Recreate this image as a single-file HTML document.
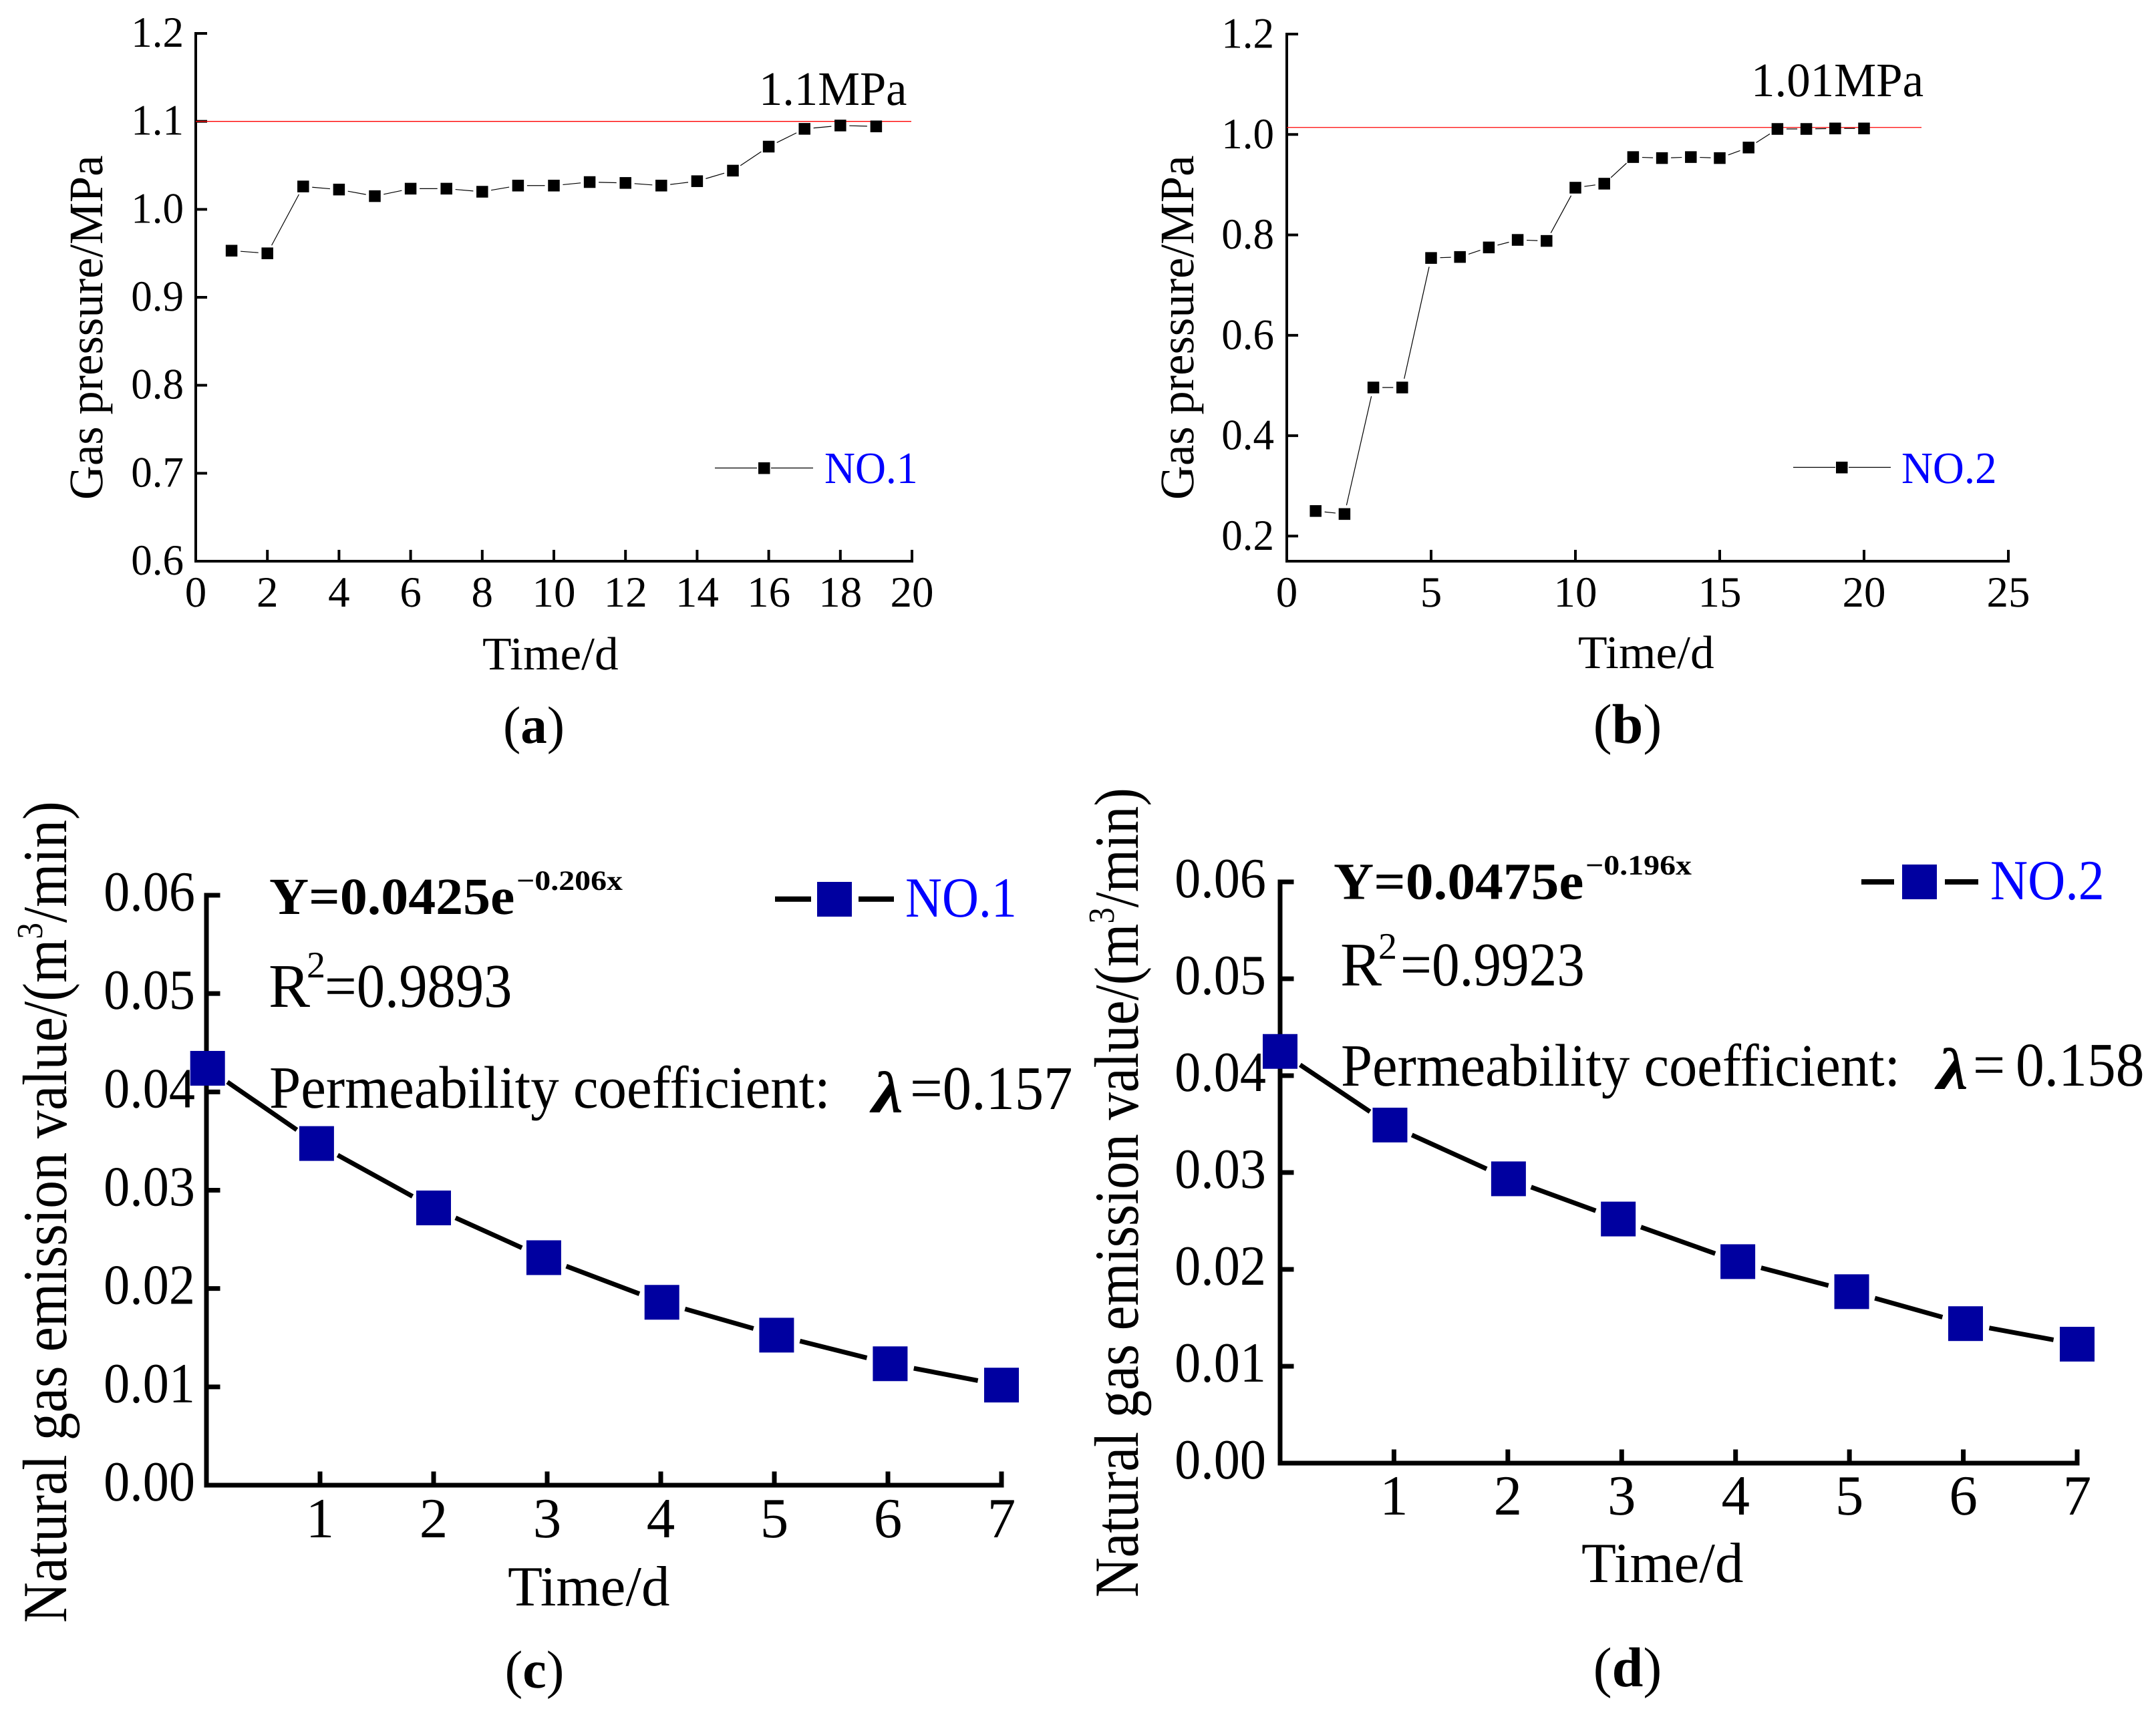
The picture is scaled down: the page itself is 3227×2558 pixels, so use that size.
<!DOCTYPE html>
<html lang="en">
<head>
<meta charset="utf-8">
<title>Gas pressure and natural gas emission charts</title>
<style>
html,body{margin:0;padding:0;background:#fff;}
svg{display:block;}
text{font-family:"Liberation Serif","Times New Roman",serif;fill:#000;text-rendering:geometricPrecision;}
</style>
</head>
<body>
<svg id="figure" xmlns="http://www.w3.org/2000/svg" width="3227" height="2558" viewBox="0 0 3227 2558">
  <rect x="0" y="0" width="3227" height="2558" fill="#fff"/>

  <g id="panel-a">
    <text font-size="72" transform="translate(153 748) rotate(-90) scale(0.98 1)">Gas pressure/MPa</text>
    <text font-size="70" transform="translate(722 1002) scale(1.02 1)">Time/d</text>
    <text font-size="72" transform="translate(1136 157) scale(0.98 1)">1.1MPa</text>
    <g>
      <line x1="1070" y1="700.5" x2="1133" y2="700.5" stroke="#000" stroke-width="1.2"/>
      <line x1="1154" y1="700.5" x2="1217" y2="700.5" stroke="#000" stroke-width="1.2"/>
      <rect x="1135" y="692" width="17.5" height="17.5" fill="#000"/>
      <text font-size="67" transform="translate(1234 723) scale(0.95 1)" style="fill:#0000ff">NO.1</text>
    </g>
    <text font-size="79" x="799" y="1112" text-anchor="middle">(<tspan font-weight="bold">a</tspan>)</text>
  </g>

  <g id="panel-b">
    <text font-size="72" transform="translate(1786 748) rotate(-90) scale(0.98 1)">Gas pressure/MPa</text>
    <text font-size="70" transform="translate(2362 1000) scale(1.02 1)">Time/d</text>
    <text font-size="72" transform="translate(2621 144) scale(0.985 1)">1.01MPa</text>
    <g>
      <line x1="2684" y1="699.5" x2="2747" y2="699.5" stroke="#000" stroke-width="1.2"/>
      <line x1="2767" y1="699.5" x2="2830" y2="699.5" stroke="#000" stroke-width="1.2"/>
      <rect x="2748" y="691" width="17.5" height="17.5" fill="#000"/>
      <text font-size="67" transform="translate(2846 723) scale(0.97 1)" style="fill:#0000ff">NO.2</text>
    </g>
    <text font-size="84" x="2436" y="1112" text-anchor="middle">(<tspan font-weight="bold">b</tspan>)</text>
  </g>

  <g id="panel-c">
    <text font-size="94" transform="translate(99 2429) rotate(-90) scale(0.893 1)">Natural gas emission value/(m<tspan font-size="55" dy="-36">3</tspan><tspan dy="36">/min)</tspan></text>
    <text font-size="85" transform="translate(760 2403) scale(1 1)">Time/d</text>
    <text font-size="78" font-weight="bold" transform="translate(403 1368) scale(1.05 1)">Y=0.0425e</text>
    <text font-size="42" font-weight="bold" transform="translate(773 1332) scale(1.14 1)">−0.206x</text>
    <text font-size="93" x="402" y="1507">R</text>
    <text font-size="56" x="459" y="1463">2</text>
    <text font-size="93" transform="translate(486 1507) scale(0.91 1)">=0.9893</text>
    <text font-size="90" transform="translate(403 1658) scale(0.943 1)">Permeability coefficient:</text>
    <text font-size="88" font-weight="bold" font-style="italic" transform="translate(1305 1665) scale(1.2 1)">λ</text>
    <text font-size="93" transform="translate(1362 1660) scale(0.93 1)">=0.157</text>
    <g>
      <line x1="1160" y1="1345.7" x2="1214" y2="1345.7" stroke="#000" stroke-width="8"/>
      <line x1="1285" y1="1345.7" x2="1338" y2="1345.7" stroke="#000" stroke-width="8"/>
      <rect x="1223" y="1320" width="52" height="52" fill="#0000a0"/>
      <text font-size="85" transform="translate(1355 1372) scale(0.895 1)" style="fill:#0000ff">NO.1</text>
    </g>
    <text font-size="80" x="800" y="2526" text-anchor="middle">(<tspan font-weight="bold">c</tspan>)</text>
  </g>

  <g id="panel-d">
    <text font-size="94" transform="translate(1703 2391) rotate(-90) scale(0.88 1)">Natural gas emission value/(m<tspan font-size="55" dy="-36">3</tspan><tspan dy="36">/min)</tspan></text>
    <text font-size="85" transform="translate(2367 2368) scale(1 1)">Time/d</text>
    <text font-size="78" font-weight="bold" transform="translate(1996 1345.6) scale(1.07 1)">Y=0.0475e</text>
    <text font-size="42" font-weight="bold" transform="translate(2373 1309) scale(1.14 1)">−0.196x</text>
    <text font-size="93" x="2006" y="1475">R</text>
    <text font-size="56" x="2063" y="1435">2</text>
    <text font-size="93" transform="translate(2096 1475) scale(0.895 1)">=0.9923</text>
    <text font-size="90" transform="translate(2007 1625) scale(0.94 1)">Permeability coefficient:</text>
    <text font-size="88" font-weight="bold" font-style="italic" transform="translate(2899 1630) scale(1.2 1)">λ</text>
    <text font-size="93" transform="translate(2953 1625) scale(0.92 1)">=</text>
    <text font-size="93" transform="translate(3017 1625) scale(0.92 1)">0.158</text>
    <g>
      <line x1="2786" y1="1320" x2="2835" y2="1320" stroke="#000" stroke-width="8"/>
      <line x1="2911" y1="1320" x2="2961" y2="1320" stroke="#000" stroke-width="8"/>
      <rect x="2847" y="1294" width="52" height="52" fill="#0000a0"/>
      <text font-size="85" transform="translate(2979 1346) scale(0.915 1)" style="fill:#0000ff">NO.2</text>
    </g>
    <text font-size="84" x="2436" y="2524" text-anchor="middle">(<tspan font-weight="bold">d</tspan>)</text>
  </g>
</svg>

<script>
// Panel (a) data
const daysA = [1,2,3,4,5,6,7,8,9,10,11,12,13,14,15,16,17,18,19];
const pressureA = [0.953,0.950,1.026,1.0225,1.015,1.0235,1.0235,1.020,1.027,1.027,1.031,1.030,1.027,1.032,1.044,1.0713,1.0915,1.0953,1.0943];
const targetPressureA = [1.1];
const xTicksA = ['0','2','4','6','8','10','12','14','16','18','20'];
const yTicksA = ['0.6','0.7','0.8','0.9','1.0','1.1','1.2'];

// Panel (b) data
const daysB = [1,2,3,4,5,6,7,8,9,10,11,12,13,14,15,16,17,18,19,20];
const pressureB = [0.25,0.244,0.496,0.496,0.754,0.756,0.775,0.79,0.788,0.894,0.902,0.955,0.953,0.955,0.953,0.974,1.011,1.011,1.012,1.012];
const targetPressureB = [1.014];
const xTicksB = ['0','5','10','15','20','25'];
const yTicksB = ['0.2','0.4','0.6','0.8','1.0','1.2'];

// Panel (c) data
const daysC = [0.01,0.97,2,2.97,4.01,5.02,6.02,7];
const emissionC = [0.0424,0.03475,0.0282,0.02314,0.0186,0.01526,0.01235,0.01018];
const xTicksC = ['1','2','3','4','5','6','7'];
const yTicksC = ['0.00','0.01','0.02','0.03','0.04','0.05','0.06'];

// Panel (d) data
const daysD = [0,0.965,2.006,2.97,4.02,5.02,6.02,7];
const emissionD = [0.0425,0.0349,0.02935,0.0252,0.0208,0.0177,0.0144,0.01228];
const xTicksD = ['1','2','3','4','5','6','7'];
const yTicksD = ['0.00','0.01','0.02','0.03','0.04','0.05','0.06'];

const NS = 'http://www.w3.org/2000/svg';

function scale(d0, d1, r0, r1) {
  return function (v) { return r0 + (v - d0) * (r1 - r0) / (d1 - d0); };
}

function addLine(parent, x1, y1, x2, y2, stroke, width, name) {
  const el = document.createElementNS(NS, 'line');
  el.setAttribute('x1', x1);
  el.setAttribute('y1', y1);
  el.setAttribute('x2', x2);
  el.setAttribute('y2', y2);
  el.setAttribute('stroke', stroke);
  el.setAttribute('stroke-width', width);
  
  
  parent.appendChild(el);
  return el;
}

function addMarker(parent, cx, cy, size, fill, name) {
  const el = document.createElementNS(NS, 'rect');
  el.setAttribute('x', cx - size / 2);
  el.setAttribute('y', cy - size / 2);
  el.setAttribute('width', size);
  el.setAttribute('height', size);
  el.setAttribute('fill', fill);
  
  
  parent.appendChild(el);
  return el;
}

function addLabel(parent, x, y, str, size, anchor, sx, name) {
  const el = document.createElementNS(NS, 'text');
  el.setAttribute('transform', 'translate(' + x + ' ' + y + ') scale(' + sx + ' 1)');
  el.setAttribute('font-size', size);
  el.setAttribute('text-anchor', anchor);
  
  
  el.textContent = str;
  parent.appendChild(el);
  return el;
}

function drawPanel(o) {
  const g = document.getElementById('panel-' + o.id);
  const x = scale(o.xDomain[0], o.xDomain[1], o.xRange[0], o.xRange[1]);
  const y = scale(o.yDomain[0], o.yDomain[1], o.yRange[0], o.yRange[1]);
  const half = o.axisWidth / 2;

  addLine(g, o.xRange[0], o.yRange[0], o.xRange[1] + half, o.yRange[0], '#000', o.axisWidth, 'x-axis-' + o.id);
  addLine(g, o.xRange[0], o.yRange[0] + half, o.xRange[0], y(o.yDomain[1]) - half, '#000', o.axisWidth, 'y-axis-' + o.id);

  o.xTicks.forEach(function (label) {
    const v = parseFloat(label);
    if (v !== o.xDomain[0]) {
      addLine(g, x(v), o.yRange[0], x(v), o.yRange[0] - o.tickLength - half, '#000', o.axisWidth, 'x-tick-' + o.id + '-' + label);
    }
    addLabel(g, x(v), o.xLabelY, label, o.tickFont, 'middle', 1, 'x-tick-label-' + o.id + '-' + label);
  });

  o.yTicks.forEach(function (label) {
    const v = parseFloat(label);
    if (v !== o.yDomain[0]) {
      addLine(g, o.xRange[0], y(v), o.xRange[0] + o.tickLength + half, y(v), '#000', o.axisWidth, 'y-tick-' + o.id + '-' + label);
    }
    addLabel(g, o.yLabelX, y(v) + o.yLabelDy, label, o.tickFont, 'end', o.yLabelScale, 'y-tick-label-' + o.id + '-' + label);
  });

  if (o.target) {
    addLine(g, o.xRange[0], y(o.target[0]), o.targetEnd, y(o.target[0]), '#ff0000', 1.3, 'target-pressure-line-' + o.id);
  }

  for (let i = 0; i < o.xs.length - 1; i++) {
    const x1 = x(o.xs[i]);
    const y1 = y(o.ys[i]);
    const x2 = x(o.xs[i + 1]);
    const y2 = y(o.ys[i + 1]);
    const len = Math.hypot(x2 - x1, y2 - y1);
    if (len > 2 * o.gap) {
      const ux = (x2 - x1) / len;
      const uy = (y2 - y1) / len;
      addLine(g, x1 + ux * o.gap, y1 + uy * o.gap, x2 - ux * o.gap, y2 - uy * o.gap, '#000', o.lineWidth, 'series-segment-' + o.id + '-' + (i + 1));
    }
  }

  o.xs.forEach(function (v, i) {
    addMarker(g, x(v), y(o.ys[i]), o.markerSize, o.markerColor, 'data-point-' + o.id + '-' + (i + 1));
  });
}

drawPanel({
  id: 'a', xDomain: [0, 20], xRange: [293, 1365], yDomain: [0.6, 1.2], yRange: [840, 50],
  xTicks: xTicksA, yTicks: yTicksA, xs: daysA, ys: pressureA, target: targetPressureA, targetEnd: 1364,
  axisWidth: 4, tickLength: 15, tickFont: 65, xLabelY: 908, yLabelX: 275, yLabelDy: 20, yLabelScale: 0.97,
  gap: 13.5, lineWidth: 1.2, markerSize: 17.5, markerColor: '#000'
});

drawPanel({
  id: 'b', xDomain: [0, 25], xRange: [1926, 3006], yDomain: [0.15, 1.2], yRange: [840, 51],
  xTicks: xTicksB, yTicks: yTicksB, xs: daysB, ys: pressureB, target: targetPressureB, targetEnd: 2876,
  axisWidth: 4, tickLength: 15, tickFont: 65, xLabelY: 908, yLabelX: 1907, yLabelDy: 20.5, yLabelScale: 0.97,
  gap: 13.5, lineWidth: 1.2, markerSize: 17.5, markerColor: '#000'
});

drawPanel({
  id: 'c', xDomain: [0, 7], xRange: [309, 1499], yDomain: [0, 0.06], yRange: [2223, 1340],
  xTicks: xTicksC, yTicks: yTicksC, xs: daysC, ys: emissionC, target: null, targetEnd: 0,
  axisWidth: 7, tickLength: 17, tickFont: 85, xLabelY: 2301, yLabelX: 292, yLabelDy: 23, yLabelScale: 0.92,
  gap: 36, lineWidth: 7, markerSize: 52, markerColor: '#0000a0'
});

drawPanel({
  id: 'd', xDomain: [0, 7], xRange: [1916, 3109], yDomain: [0, 0.06], yRange: [2190, 1320],
  xTicks: xTicksD, yTicks: yTicksD, xs: daysD, ys: emissionD, target: null, targetEnd: 0,
  axisWidth: 7, tickLength: 17, tickFont: 85, xLabelY: 2267, yLabelX: 1895, yLabelDy: 23, yLabelScale: 0.92,
  gap: 36, lineWidth: 7, markerSize: 52, markerColor: '#0000a0'
});
</script>
</body>
</html>
